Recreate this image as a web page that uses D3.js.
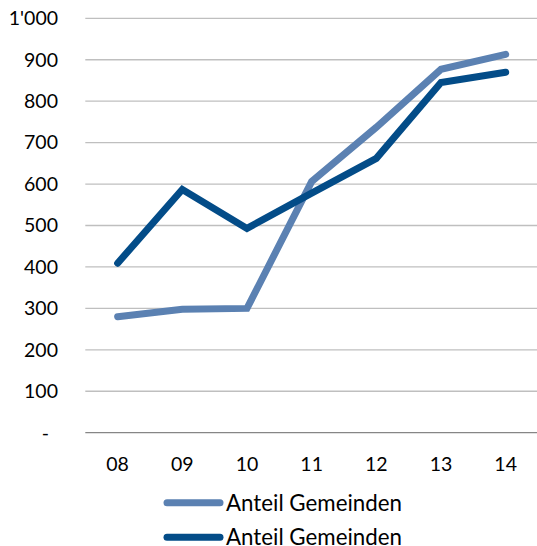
<!DOCTYPE html>
<html>
<head>
<meta charset="utf-8">
<script src="https://cdn.jsdelivr.net/npm/d3@7"></script>
<style>
  body { margin: 0; background: #fff; }
  #chart--wrap { width: 537px; height: 546px; }
  text { font-family: Lato, "Open Sans", sans-serif; fill: #000; }
</style>
</head>
<body>
<div id="chart--wrap"></div>
<script>
;(function() {
// Data
const years = ['08', '09', '10', '11', '12', '13', '14'];
const seriesNames = ['Anteil Gemeinden', 'Anteil Gemeinden'];
const seriesA = [280, 298, 300, 606, 737, 877, 913];
const seriesB = [409, 587, 493, 578, 662, 845, 870];
const yTicks = [0, 100, 200, 300, 400, 500, 600, 700, 800, 900, 1000];
const yTickLabels = ['-', '100', '200', '300', '400', '500', '600', '700', '800', '900', "1'000"];

const catConfig = [
  { name: seriesNames[0], values: seriesA, color: '#5b81b2' },
  { name: seriesNames[1], values: seriesB, color: '#034c88' }
];

const width = 537, height = 546;
const plot = { left: 85.3, right: 538, top: 18.3, bottom: 432.7 };

const svg = d3.select('#chart--wrap').append('svg')
  .attr('width', width)
  .attr('height', height);

// Scales
const x = d3.scaleBand().domain(years).range([plot.left, plot.right]);
const y = d3.scaleLinear().domain([0, 1000]).range([plot.bottom, plot.top]);

// Grid lines
svg.append('g')
  .selectAll('line')
  .data(yTicks.filter(d => d > 0))
  .enter()
  .append('line')
  .attr('x1', plot.left)
  .attr('x2', width)
  .attr('y1', d => y(d))
  .attr('y2', d => y(d))
  .attr('stroke', '#bfbfbf')
  .attr('stroke-width', 1.3);

// X axis line
svg.append('line')
  .attr('x1', plot.left)
  .attr('x2', width)
  .attr('y1', y(0))
  .attr('y2', y(0))
  .attr('stroke', '#868686')
  .attr('stroke-width', 1.3);

// Y labels
svg.append('g')
  .selectAll('text')
  .data(yTicks)
  .enter()
  .append('text')
  .attr('x', d => d === 0 ? 49 : 58)
  .attr('y', d => y(d))
  .attr('dy', '0.35em')
  .attr('text-anchor', 'end')
  .style('font-size', '19.5px')
  .text((d, i) => yTickLabels[i]);

// X labels
svg.append('g')
  .selectAll('text')
  .data(years)
  .enter()
  .append('text')
  .attr('x', d => x(d) + x.bandwidth() / 2)
  .attr('y', 464)
  .attr('dy', '0.35em')
  .attr('text-anchor', 'middle')
  .style('font-size', '19.5px')
  .text(d => d);

// Lines
const line = d3.line()
  .x((d, i) => x(years[i]) + x.bandwidth() / 2)
  .y(d => y(d));

svg.selectAll('.line')
  .data(catConfig)
  .enter()
  .append('path')
  .attr('class', 'line')
  .attr('d', d => line(d.values))
  .style('fill', 'none')
  .style('stroke', d => d.color)
  .style('stroke-width', 7)
  .style('stroke-linecap', 'round')
  .style('stroke-linejoin', 'miter');

// Legend
const legendY = [502.7, 537.3];
const key = svg.append('g')
  .selectAll('g')
  .data(catConfig)
  .enter()
  .append('g')
  .attr('transform', (d, i) => `translate(0, ${legendY[i]})`);

key.append('line')
  .attr('x1', 167)
  .attr('x2', 220)
  .attr('stroke', d => d.color)
  .attr('stroke-width', 7)
  .attr('stroke-linecap', 'round');

key.append('text')
  .attr('x', 226)
  .attr('dy', '0.35em')
  .style('font-size', '22.3px')
  .text(d => d.name);
})();
</script>
</body>
</html>
